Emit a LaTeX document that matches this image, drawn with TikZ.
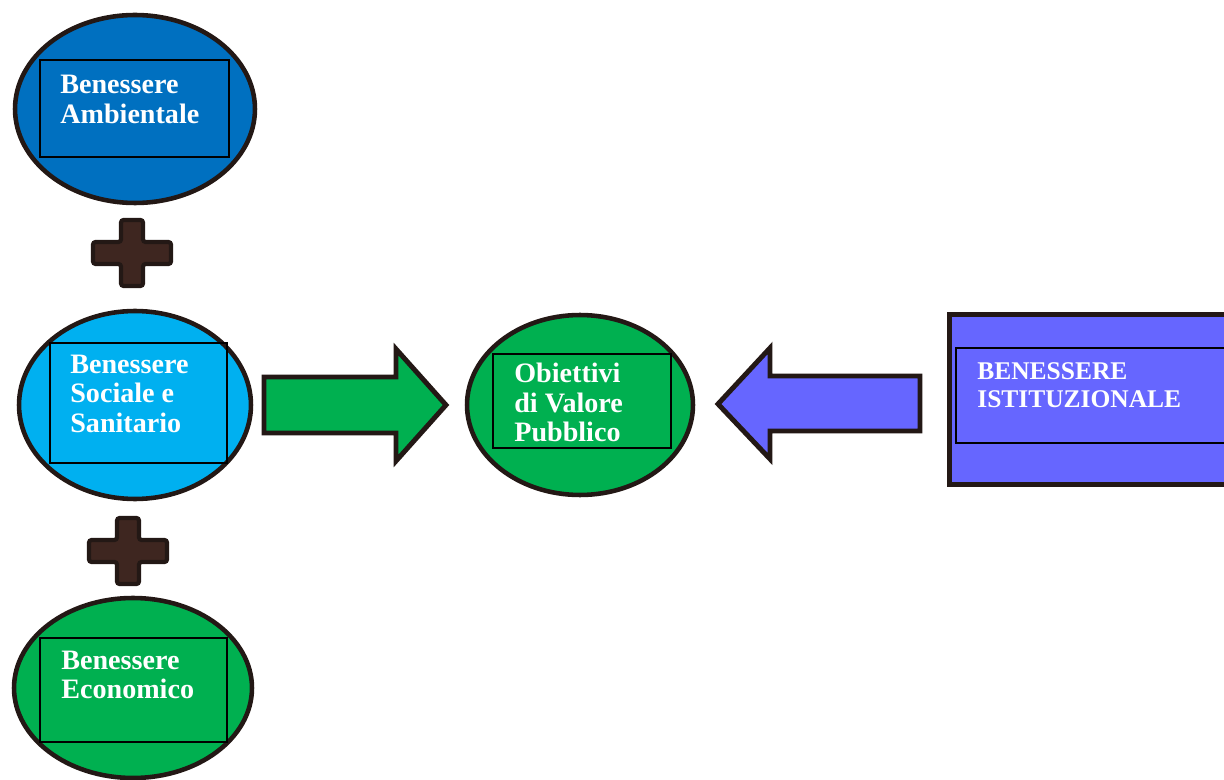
\documentclass[tikz,border=0pt]{standalone}
\usepackage{fontspec}
\setmainfont{Liberation Serif}
\usetikzlibrary{shapes.geometric}

\definecolor{edgedark}{HTML}{231815}
\definecolor{ambblue}{HTML}{0070C0}
\definecolor{socblue}{HTML}{00B0F0}
\definecolor{ecogreen}{HTML}{00B050}
\definecolor{istviolet}{HTML}{6666FF}
\definecolor{plusbrown}{HTML}{3E2620}

\tikzset{
  bubble/.style={ellipse, draw=edgedark, line width=2.6pt, inner sep=0pt},
  framebox/.style={draw=black, line width=0.6pt},
  label/.style={anchor=north west, inner sep=0pt, text=white, align=left,
    font=\bfseries\fontsize{16}{16.6}\selectfont},
  bigarrow/.style={draw=edgedark, line width=2.8pt, line join=miter},
  plusmark/.style={draw=edgedark, fill=plusbrown, line width=2.4pt, rounded corners=1.5pt}
}

\begin{document}
\begin{tikzpicture}[x=0.02cm, y=-0.02cm]
            \useasboundingbox (0,0) rectangle (1224,780);

            % the three pillars on the left
            \node[bubble, fill=ambblue, minimum width=4.8cm, minimum height=3.76cm] (ambientale) at (135,109) {};
            \node[bubble, fill=socblue, minimum width=4.64cm, minimum height=3.76cm] (sociale) at (135,405) {};
            \node[bubble, fill=ecogreen, minimum width=4.76cm, minimum height=3.6cm] (economico) at (133,688) {};
            \draw[framebox] (40,60) rectangle (229,157);
            \draw[framebox] (50,343) rectangle (227,463);
            \draw[framebox] (40,638) rectangle (227,742);
            \node[label, font=\bfseries\fontsize{16}{17}\selectfont] (ambtext) at (60,75) {Benessere\\Ambientale};
            \node[label] (soctext) at (70,355) {Benessere\\Sociale e\\Sanitario};
            \node[label] (ecotext) at (61,651) {Benessere\\Economico};

            % plus signs between them
            \foreach \cx/\cy in {132/253, 128/551}
                \draw[plusmark] (\cx-11,\cy-33) -- (\cx+11,\cy-33) -- (\cx+11,\cy-11)
                    -- (\cx+39,\cy-11) -- (\cx+39,\cy+11) -- (\cx+11,\cy+11)
                    -- (\cx+11,\cy+33) -- (\cx-11,\cy+33) -- (\cx-11,\cy+11)
                    -- (\cx-39,\cy+11) -- (\cx-39,\cy-11) -- (\cx-11,\cy-11) -- cycle;

            % public value in the middle
            \node[bubble, fill=ecogreen, minimum width=4.52cm, minimum height=3.6cm] (obiettivi) at (580,405) {};
            \draw[framebox] (493,354) rectangle (671,448);
            \node[label] (obtext) at (514,363) {Obiettivi\\di Valore\\Pubblico};

            % institutional box, cut at the right edge
            \node[draw=edgedark, fill=istviolet, line width=2.8pt, minimum width=5.9cm,
                minimum height=3.4cm, anchor=north west, inner sep=0pt] (istituzionale) at (947,312) {};
            \draw[framebox] (956,348) rectangle (1240,443);
            \node[label, font=\bfseries\fontsize{14.5}{16}\selectfont] (isttext) at (977,362)
                {BENESSERE\\ISTITUZIONALE};

            % block arrows
            \draw[bigarrow, fill=ecogreen] (264,377) -- (396,377) -- (396,349) -- (446,405)
                -- (396,461) -- (396,433) -- (264,433) -- cycle;
            \draw[bigarrow, fill=istviolet] (920,376) -- (770,376) -- (770,348) -- (718,404)
                -- (770,459) -- (770,431) -- (920,431) -- cycle;
        \end{tikzpicture}
\end{document}
